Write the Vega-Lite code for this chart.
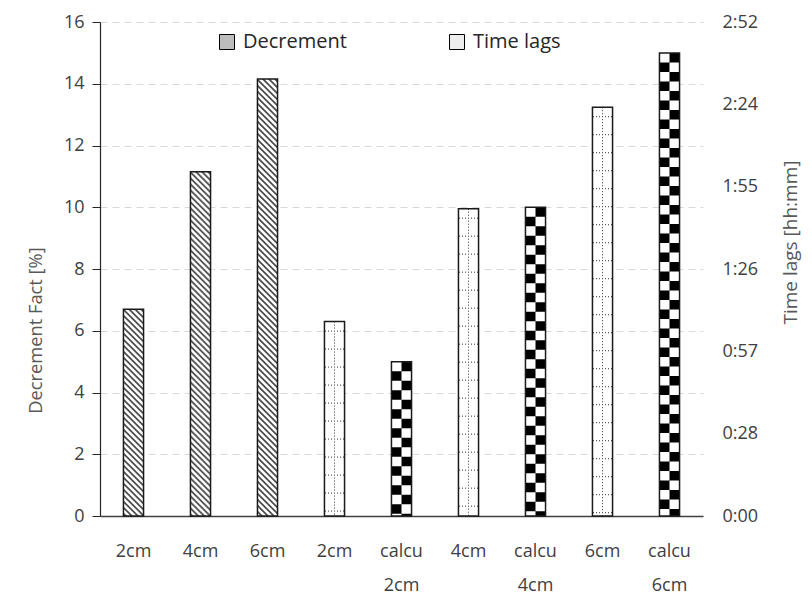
{
  "$schema": "https://vega.github.io/schema/vega-lite/v6.json",
  "autosize": {"type": "none"},
  "width": 603,
  "height": 494,
  "padding": {"left": 100, "top": 22, "right": 109, "bottom": 86},
  "background": "white",
  "config": {"view": {"stroke": null}, "font": "Open Sans"},
  "data": {
    "values": [
      {"cat": "2cm", "series": "Decrement", "kind": "measured", "value": 6.7},
      {"cat": "4cm", "series": "Decrement", "kind": "measured", "value": 11.15},
      {"cat": "6cm", "series": "Decrement", "kind": "measured", "value": 14.15},
      {"cat": "2cm ", "series": "Time lags", "kind": "measured", "value": 68},
      {"cat": "calcu 2cm", "series": "Time lags", "kind": "calculated", "value": 54},
      {"cat": "4cm ", "series": "Time lags", "kind": "measured", "value": 107.5},
      {"cat": "calcu 4cm", "series": "Time lags", "kind": "calculated", "value": 108},
      {"cat": "6cm ", "series": "Time lags", "kind": "measured", "value": 143},
      {"cat": "calcu 6cm", "series": "Time lags", "kind": "calculated", "value": 162}
    ]
  },
  "encoding": {
    "x": {
      "field": "cat",
      "type": "nominal",
      "sort": ["2cm", "4cm", "6cm", "2cm ", "calcu 2cm", "4cm ", "calcu 4cm", "6cm ", "calcu 6cm"],
      "scale": {"paddingInner": 0.7, "paddingOuter": 0.35},
      "axis": {
        "title": null,
        "labelAngle": 0,
        "labelExpr": "split(trim(datum.label), ' ')",
        "labelFontSize": 18,
        "labelColor": "#404040",
        "labelLineHeight": 34,
        "labelPadding": 26,
        "labelBaseline": "top",
        "ticks": false,
        "domainColor": "#404040",
        "domainWidth": 1.5,
        "grid": false
      }
    }
  },
  "layer": [
    {
      "transform": [{"filter": "datum.series === 'Decrement'"}],
      "encoding": {
        "y": {
          "field": "value",
          "type": "quantitative",
          "scale": {"domain": [0, 16], "nice": false},
          "axis": {
            "orient": "left",
            "values": [0, 2, 4, 6, 8, 10, 12, 14, 16],
            "title": "Decrement Fact [%]",
            "titleFontSize": 18.3,
            "titleFontWeight": "normal",
            "titleColor": "#595959",
            "titleX": -64,
            "titleY": 308,
            "titleBaseline": "middle",
            "labelFontSize": 18,
            "labelColor": "#404040",
            "labelPadding": 8,
            "tickSize": 8,
            "tickColor": "#262626",
            "domainColor": "#262626",
            "domainWidth": 1.2,
            "grid": true,
            "gridDash": [7, 5],
            "gridColor": "#d9d9d9",
            "gridWidth": 1.2
          }
        },
        "y2": {"datum": 0}
      },
      "layer": [
        {"mark": {"type": "bar", "fill": "white"}},
        {"mark": {"type": "rule", "xOffset": -9.5, "strokeDash": [2, 4], "strokeDashOffset": 0, "stroke": "#000", "strokeWidth": 1}},
        {"mark": {"type": "rule", "xOffset": -8.5, "strokeDash": [2, 4], "strokeDashOffset": 5, "stroke": "#000", "strokeWidth": 1}},
        {"mark": {"type": "rule", "xOffset": -7.5, "strokeDash": [2, 4], "strokeDashOffset": 4, "stroke": "#000", "strokeWidth": 1}},
        {"mark": {"type": "rule", "xOffset": -6.5, "strokeDash": [2, 4], "strokeDashOffset": 3, "stroke": "#000", "strokeWidth": 1}},
        {"mark": {"type": "rule", "xOffset": -5.5, "strokeDash": [2, 4], "strokeDashOffset": 2, "stroke": "#000", "strokeWidth": 1}},
        {"mark": {"type": "rule", "xOffset": -4.5, "strokeDash": [2, 4], "strokeDashOffset": 1, "stroke": "#000", "strokeWidth": 1}},
        {"mark": {"type": "rule", "xOffset": -3.5, "strokeDash": [2, 4], "strokeDashOffset": 0, "stroke": "#000", "strokeWidth": 1}},
        {"mark": {"type": "rule", "xOffset": -2.5, "strokeDash": [2, 4], "strokeDashOffset": 5, "stroke": "#000", "strokeWidth": 1}},
        {"mark": {"type": "rule", "xOffset": -1.5, "strokeDash": [2, 4], "strokeDashOffset": 4, "stroke": "#000", "strokeWidth": 1}},
        {"mark": {"type": "rule", "xOffset": -0.5, "strokeDash": [2, 4], "strokeDashOffset": 3, "stroke": "#000", "strokeWidth": 1}},
        {"mark": {"type": "rule", "xOffset": 0.5, "strokeDash": [2, 4], "strokeDashOffset": 2, "stroke": "#000", "strokeWidth": 1}},
        {"mark": {"type": "rule", "xOffset": 1.5, "strokeDash": [2, 4], "strokeDashOffset": 1, "stroke": "#000", "strokeWidth": 1}},
        {"mark": {"type": "rule", "xOffset": 2.5, "strokeDash": [2, 4], "strokeDashOffset": 0, "stroke": "#000", "strokeWidth": 1}},
        {"mark": {"type": "rule", "xOffset": 3.5, "strokeDash": [2, 4], "strokeDashOffset": 5, "stroke": "#000", "strokeWidth": 1}},
        {"mark": {"type": "rule", "xOffset": 4.5, "strokeDash": [2, 4], "strokeDashOffset": 4, "stroke": "#000", "strokeWidth": 1}},
        {"mark": {"type": "rule", "xOffset": 5.5, "strokeDash": [2, 4], "strokeDashOffset": 3, "stroke": "#000", "strokeWidth": 1}},
        {"mark": {"type": "rule", "xOffset": 6.5, "strokeDash": [2, 4], "strokeDashOffset": 2, "stroke": "#000", "strokeWidth": 1}},
        {"mark": {"type": "rule", "xOffset": 7.5, "strokeDash": [2, 4], "strokeDashOffset": 1, "stroke": "#000", "strokeWidth": 1}},
        {"mark": {"type": "rule", "xOffset": 8.5, "strokeDash": [2, 4], "strokeDashOffset": 0, "stroke": "#000", "strokeWidth": 1}},
        {"mark": {"type": "rule", "xOffset": 9.5, "strokeDash": [2, 4], "strokeDashOffset": 5, "stroke": "#000", "strokeWidth": 1}},
        {"mark": {"type": "bar", "fillOpacity": 0, "stroke": "#1a1a1a", "strokeWidth": 1.5}}
      ]
    },
    {
      "transform": [{"filter": "datum.series === 'Time lags'"}],
      "encoding": {
        "y": {
          "field": "value",
          "type": "quantitative",
          "scale": {"domain": [0, 172.8], "nice": false},
          "axis": {
            "orient": "right",
            "values": [0, 28.8, 57.6, 86.4, 115.2, 144, 172.8],
            "labelExpr": "floor(datum.value/60) + ':' + (floor(datum.value%60) < 10 ? '0' : '') + floor(datum.value%60)",
            "title": "Time lags [hh:mm]",
            "titleFontSize": 19,
            "titleFontWeight": "normal",
            "titleColor": "#595959",
            "titleAngle": 270,
            "titleX": 87,
            "titleY": 220,
            "titleBaseline": "middle",
            "labelFontSize": 18,
            "labelColor": "#404040",
            "labelPadding": 19,
            "ticks": false,
            "domain": false,
            "grid": false
          }
        },
        "y2": {"datum": 0}
      },
      "layer": [
        {
          "mark": {"type": "bar"},
          "encoding": {
            "fill": {
              "condition": {"test": "datum.kind === 'calculated'", "value": "black"},
              "value": "white"
            }
          }
        },
        {
          "transform": [{"filter": "datum.kind === 'measured'"}],
          "layer": [
            {"mark": {"type": "rule", "xOffset": 0, "strokeDash": [1, 2], "stroke": "#333", "strokeWidth": 1}},
            {"mark": {"type": "rule", "xOffset": -9, "strokeDash": [1, 17], "strokeDashOffset": 9, "stroke": "#333", "strokeWidth": 1}},
            {"mark": {"type": "rule", "xOffset": -6, "strokeDash": [1, 17], "strokeDashOffset": 9, "stroke": "#333", "strokeWidth": 1}},
            {"mark": {"type": "rule", "xOffset": -3, "strokeDash": [1, 17], "strokeDashOffset": 9, "stroke": "#333", "strokeWidth": 1}},
            {"mark": {"type": "rule", "xOffset": 3, "strokeDash": [1, 17], "strokeDashOffset": 9, "stroke": "#333", "strokeWidth": 1}},
            {"mark": {"type": "rule", "xOffset": 6, "strokeDash": [1, 17], "strokeDashOffset": 9, "stroke": "#333", "strokeWidth": 1}},
            {"mark": {"type": "rule", "xOffset": 9, "strokeDash": [1, 17], "strokeDashOffset": 9, "stroke": "#333", "strokeWidth": 1}}
          ]
        },
        {
          "transform": [{"filter": "datum.kind === 'calculated'"}],
          "layer": [
            {"mark": {"type": "rule", "xOffset": -5, "strokeDash": [9.5, 9.5], "strokeDashOffset": 0, "stroke": "#fff", "strokeWidth": 10}},
            {"mark": {"type": "rule", "xOffset": 5, "strokeDash": [9.5, 9.5], "strokeDashOffset": 9.5, "stroke": "#fff", "strokeWidth": 10}}
          ]
        },
        {"mark": {"type": "bar", "fillOpacity": 0, "stroke": "#1a1a1a", "strokeWidth": 1.5}},
        {
          "transform": [{"filter": "false"}],
          "mark": {"type": "bar"},
          "encoding": {
            "fill": {
              "field": "series",
              "type": "nominal",
              "scale": {"domain": ["Decrement", "Time lags"], "range": ["#bdbdbd", "#ededed"]},
              "legend": {
                "orient": "none",
                "legendX": 117,
                "legendY": 10,
                "direction": "horizontal",
                "title": null,
                "padding": 0,
                "symbolType": "square",
                "symbolSize": 225,
                "symbolStrokeColor": "#000",
                "symbolStrokeWidth": 1,
                "symbolOpacity": 1,
                "labelFontSize": 20,
                "labelColor": "#262626",
                "labelOffset": 6,
                "columnPadding": 100
              }
            }
          }
        }
      ]
    }
  ],
  "resolve": {"scale": {"y": "independent"}, "axis": {"y": "independent"}}
}
